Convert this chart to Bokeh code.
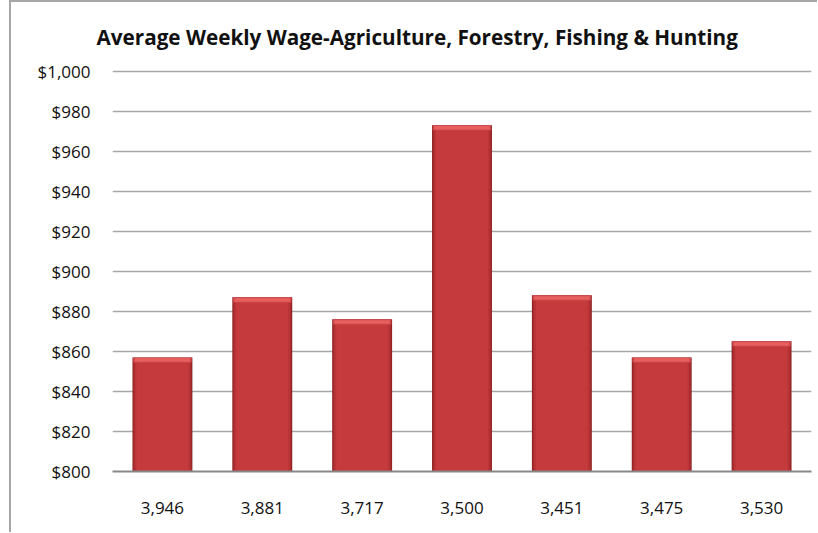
from bokeh.plotting import figure
from bokeh.models import ColumnDataSource, FixedTicker, NumeralTickFormatter, Title
from bokeh.embed import file_html
from bokeh.resources import INLINE

categories = ["3,946", "3,881", "3,717", "3,500", "3,451", "3,475", "3,530"]
wages = [857, 887, 876, 973, 888, 857, 865]
y_ticks = [800, 820, 840, 860, 880, 900, 920, 940, 960, 980, 1000]
title_text = "Average Weekly Wage-Agriculture, Forestry, Fishing & Hunting"

base = 800
src = ColumnDataSource(dict(
    cat=categories,
    top=wages,
    top_a=[w - 0.5 for w in wages],
    top_b=[w - 1.0 for w in wages],
    top_c=[w - 1.5 for w in wages],
    bev_in=[w - 0.4 for w in wages],
    bev_lo=[w - 2.6 for w in wages],
    bev_lo2=[w - 2.2 for w in wages],
))

p = figure(x_range=categories, y_range=(800, 1000.8), width=808, height=532,
           output_backend="svg", toolbar_location=None,
           min_border_left=101, min_border_right=8, min_border_top=67, min_border_bottom=63)
p.outline_line_color = None
p.margin = (0, 0, 0, 9)
p.styles = {"border-left": "2px solid #A6A6A6", "border-top": "2px solid #A6A6A6",
            "box-sizing": "border-box"}

t = Title(text=title_text, align="left", text_font="Open Sans", text_font_size="20.7px",
          text_font_style="bold", text_color="#111111", standoff=37, offset=-16)
p.add_layout(t, "above")

# bar body with shaded edges
p.vbar(x="cat", top="top", bottom=base, width=0.60, source=src,
       fill_color="#8A2022", line_color=None)
p.vbar(x="cat", top="top_a", bottom=base, width=0.585, source=src,
       fill_color="#A42B2D", line_color=None)
p.vbar(x="cat", top="top_b", bottom=base, width=0.56, source=src,
       fill_color="#B83436", line_color=None)
p.vbar(x="cat", top="top_c", bottom=base, width=0.52, source=src,
       fill_color="#C53B3D", line_color=None)
# top bevel highlight
p.vbar(x="cat", top="top", bottom="bev_lo", width=0.585, source=src,
       fill_color="#D44A4C", line_color=None)
p.vbar(x="cat", top="bev_in", bottom="bev_lo2", width=0.55, source=src,
       fill_color="#E6605F", line_color=None)

p.xgrid.grid_line_color = None
p.ygrid.grid_line_color = "#A6A6A6"
p.ygrid.grid_line_width = 1.3

p.yaxis.ticker = FixedTicker(ticks=y_ticks)
p.yaxis.formatter = NumeralTickFormatter(format="$0,0")
p.yaxis.axis_line_color = None
p.yaxis.major_tick_line_color = None
p.yaxis.minor_tick_line_color = None
p.yaxis.major_label_standoff = 16
p.yaxis.major_label_text_font = "Open Sans"
p.yaxis.major_label_text_font_size = "17px"
p.yaxis.major_label_text_color = "#111111"

p.xaxis.axis_line_color = "#888888"
p.xaxis.axis_line_width = 2
p.xaxis.major_tick_line_color = None
p.xaxis.minor_tick_line_color = None
p.xaxis.major_label_standoff = 24
p.xaxis.major_label_text_font = "Open Sans"
p.xaxis.major_label_text_font_size = "17px"
p.xaxis.major_label_text_color = "#111111"
p.x_range.range_padding = 0

open("out.html", "w").write(file_html(p, INLINE))
